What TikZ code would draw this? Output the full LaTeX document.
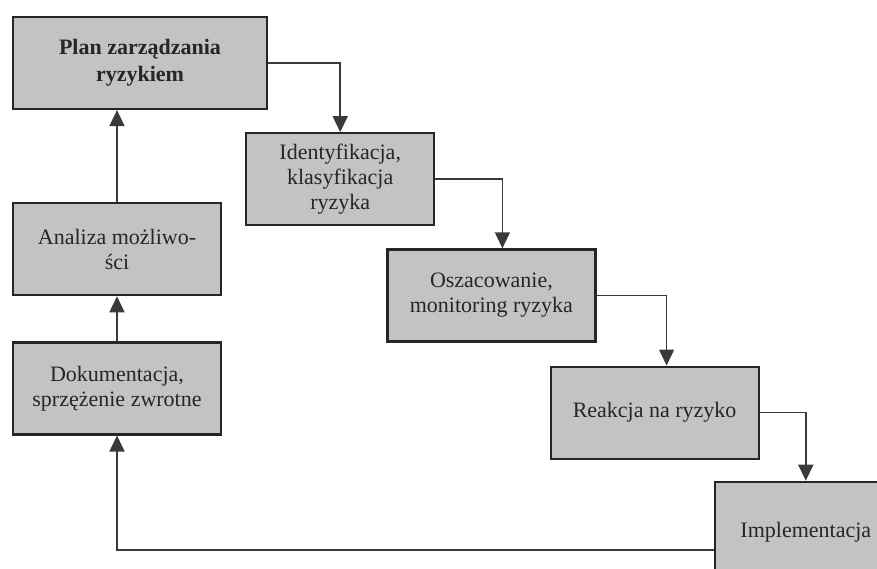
\documentclass[tikz,border=0pt]{standalone}
\usepackage{fontspec}
\setmainfont{Liberation Serif}
\usepackage{tikz}
\usetikzlibrary{positioning,arrows.meta}
\definecolor{boxgray}{HTML}{C3C3C3}
\definecolor{edgedark}{HTML}{262626}
\definecolor{linegray}{HTML}{3A3A3A}

\begin{document}
\begin{tikzpicture}[
  every node/.style={font=\fontsize{22}{25}\selectfont},
  bx/.style={draw=edgedark,fill=boxgray,line width=2.2pt,minimum height=92pt,minimum width=208pt,align=center,inner sep=3pt,text=black!85},
  fl/.style={-{Triangle[length=16pt,width=15pt]},linegray,line width=1.6pt}]
\useasboundingbox (0,0) rectangle (877pt,-569pt);
\clip (0,0) rectangle (877pt,-569pt);

\node[bx,minimum width=254pt,font=\fontsize{22}{27}\selectfont\bfseries] (plan) at (140pt,-63pt) {Plan zarządzania\\ryzykiem};
\node[bx,minimum width=188pt,below right=22pt and -23pt of plan] (ident) {Identyfikacja,\\klasyfikacja\\ryzyka};
\node[bx,below right=22pt and -49pt of ident] (osz) {Oszacowanie,\\monitoring ryzyka};
\node[bx,below right=23pt and -47pt of osz] (reak) {Reakcja na ryzyko};
\node[bx,minimum width=182pt,minimum height=100pt,below right=21pt and -46pt of reak] (impl) {Implementacja};

\node[bx,below=92pt of plan.south west,anchor=north west] (anal) {Analiza możliwo-\\ści};
\node[bx,below=45pt of anal] (dok) {Dokumentacja,\\sprzężenie zwrotne};

\draw[fl] (plan.east) -| (ident.north);
\draw[fl] (ident.east) -| ([xshift=11pt]osz.north);
\draw[fl] (osz.east) -| ([xshift=12pt]reak.north);
\draw[fl] (reak.east) -| (impl.north);
\draw[fl] ([yshift=-18pt]impl.west) -| (dok.south);
\draw[fl] (dok.north) -- (anal.south);
\draw[fl] (anal.north) -- (anal.north |- plan.south);
\end{tikzpicture}
\end{document}
